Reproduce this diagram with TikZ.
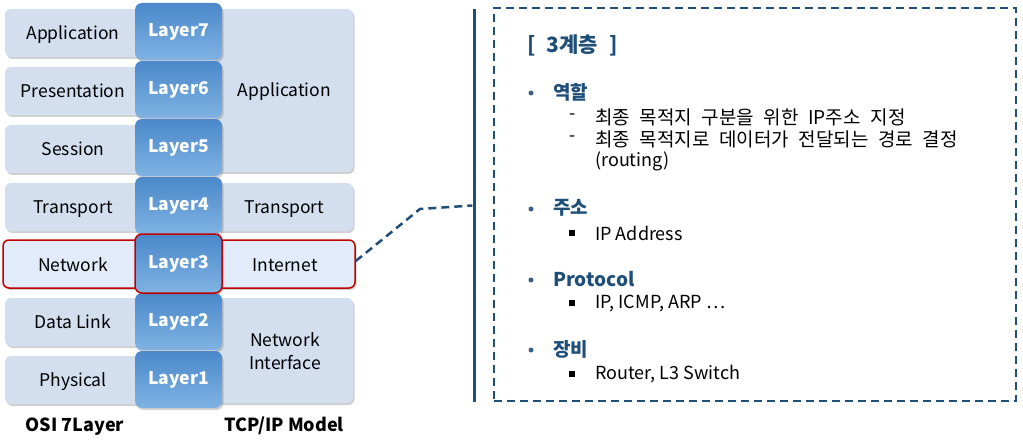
\documentclass[tikz,border=0pt]{standalone}
\usepackage{fontspec}
\setmainfont{Noto Sans CJK KR}
\usetikzlibrary{shadows}
\definecolor{boxfill}{HTML}{D3DEEF}
\definecolor{netfill}{HTML}{E1EBF9}
\definecolor{laytop}{HTML}{4A88CA}
\definecolor{laybot}{HTML}{80B3E3}
\definecolor{navy}{HTML}{1F4E79}
\definecolor{bulletc}{HTML}{3A5F8A}
\definecolor{redb}{HTML}{C00000}
\newcommand\widespA{\spaceskip=9.6pt plus 1pt\relax}
\newcommand\widespB{\spaceskip=11pt\relax}
\tikzset{
  shad/.style={drop shadow={shadow xshift=1.5pt, shadow yshift=-2pt, opacity=0.3, fill=black!60}},
  osibox/.style={shad, fill=boxfill, rounded corners=6pt, inner sep=0pt, minimum height=48pt,
     text height=12.6pt, text depth=0pt, font=\fontsize{17.5}{20}\selectfont},
  layerbox/.style={shad, top color=laytop, bottom color=laybot, rounded corners=7pt, inner sep=0pt,
     minimum width=87pt, minimum height=57pt, text=white, text height=12.6pt, text depth=3pt,
     font=\fontsize{17.5}{20}\selectfont\bfseries},
  lbl/.style={inner sep=0pt, text height=12.6pt, text depth=0pt, font=\fontsize{17.5}{20}\selectfont},
  captxt/.style={inner sep=0pt, text height=13pt, text depth=0pt, font=\fontsize{18}{20}\selectfont\bfseries},
  head/.style={anchor=west, inner sep=0pt, text=navy, font=\fontsize{19}{22}\selectfont\bfseries},
  titletxt/.style={anchor=west, inner sep=0pt, text=navy, font=\fontsize{21}{24}\selectfont\bfseries\widespB},
  sub/.style={anchor=west, inner sep=0pt, font=\fontsize{18}{21}\selectfont},
  subkr/.style={anchor=west, inner sep=0pt, font=\fontsize{19}{22}\selectfont\widespA},
  dot/.style={circle, fill=bulletc, inner sep=0pt, minimum size=5pt},
  sq/.style={fill=black, inner sep=0pt, minimum size=6pt},
}
\begin{document}
\begin{tikzpicture}[x=1pt,y=-1pt]
\useasboundingbox (0,0) rectangle (1023,441);
% OSI left boxes
\node[osibox, minimum width=136pt] (oapp) at (73,33) {Application};
\node[osibox, minimum width=136pt] (opre) at (73,91) {Presentation};
\node[osibox, minimum width=136pt] (oses) at (73,149) {Session};
\node[osibox, minimum width=136pt] (otra) at (73,207) {Transport};
\node[osibox, minimum width=136pt] (odl) at (73,322) {Data Link};
\node[osibox, minimum width=136pt] (ophy) at (73,380) {Physical};
% TCP/IP right boxes
\node[osibox, minimum width=137pt, minimum height=163pt] (tapp) at (284.5,90.5) {Application};
\node[osibox, minimum width=137pt] (ttra) at (284.5,207) {Transport};
\node[osibox, minimum width=137pt, minimum height=105pt] (tni) at (284.5,350.5) {};
\node[lbl] (tni1) at (285,340) {Network};
\node[lbl] (tni2) at (285,363) {Interface};
% network row
\node[shad, fill=netfill, draw=redb, line width=1.5pt, rounded corners=6pt, minimum width=352pt, minimum height=48pt, inner sep=0pt] (netrow) at (179,264) {};
\node[lbl] (onet) at (73,265) {Network};
\node[lbl] (tint) at (285,265) {Internet};
% layers
\node[layerbox] (l7) at (178.5,31.5) {Layer7};
\node[layerbox] (l6) at (178.5,89.5) {Layer6};
\node[layerbox] (l5) at (178.5,147.5) {Layer5};
\node[layerbox] (l4) at (178.5,205.5) {Layer4};
\node[layerbox] (l2) at (178.5,321.5) {Layer2};
\node[layerbox] (l1) at (178.5,379.5) {Layer1};
\node[layerbox, draw=redb, line width=1.5pt, minimum height=59pt] (l3) at (178.5,263.5) {Layer3};
% captions
\node[captxt] (c1) at (75,425) {OSI 7Layer};
\node[captxt] (c2) at (284,425) {TCP/IP Model};
% connector
\coordinate (bend) at (420,209);
\node[inner sep=0pt, minimum width=3pt, minimum height=393pt, fill=navy] (vline) at (474,205.5) {};
\draw[navy, line width=2.5pt, dash pattern=on 8pt off 5pt] (netrow.east) ++(0,-3) -- (bend) -- (vline.west);
% dashed panel
\node[draw=navy, line width=2.5pt, dash pattern=on 8pt off 5pt, minimum width=522pt, minimum height=393pt, inner sep=0pt] (panel) at (755,204.5) {};
% panel text
\node[titletxt] (title) at (527,45) {[ 3계층 ]};
\node[dot] (b1) at (531,93) {};
\node[head] (h1) at (553,92) {역할};
\node[sub] (d1) at (569,117) {-};
\node[subkr] (t1) at (595,117) {최종 목적지 구분을 위한 IP주소 지정};
\node[sub] (d2) at (569,139) {-};
\node[subkr] (t2) at (595,139) {최종 목적지로 데이터가 전달되는 경로 결정};
\node[sub] (t3) at (595,161) {(routing)};
\node[dot] (b2) at (531,209) {};
\node[head] (h2) at (553,208) {주소};
\node[sq] (s1) at (572,233) {};
\node[sub] (t4) at (595,233) {IP Address};
\node[dot] (b3) at (531,280) {};
\node[head] (h3) at (553,279) {Protocol};
\node[sq] (s2) at (572,303) {};
\node[sub] (t5) at (595,303) {IP, ICMP, ARP …};
\node[dot] (b4) at (531,350) {};
\node[head] (h4) at (553,349) {장비};
\node[sq] (s3) at (572,374) {};
\node[sub] (t6) at (595,374) {Router, L3 Switch};
\end{tikzpicture}
\end{document}
